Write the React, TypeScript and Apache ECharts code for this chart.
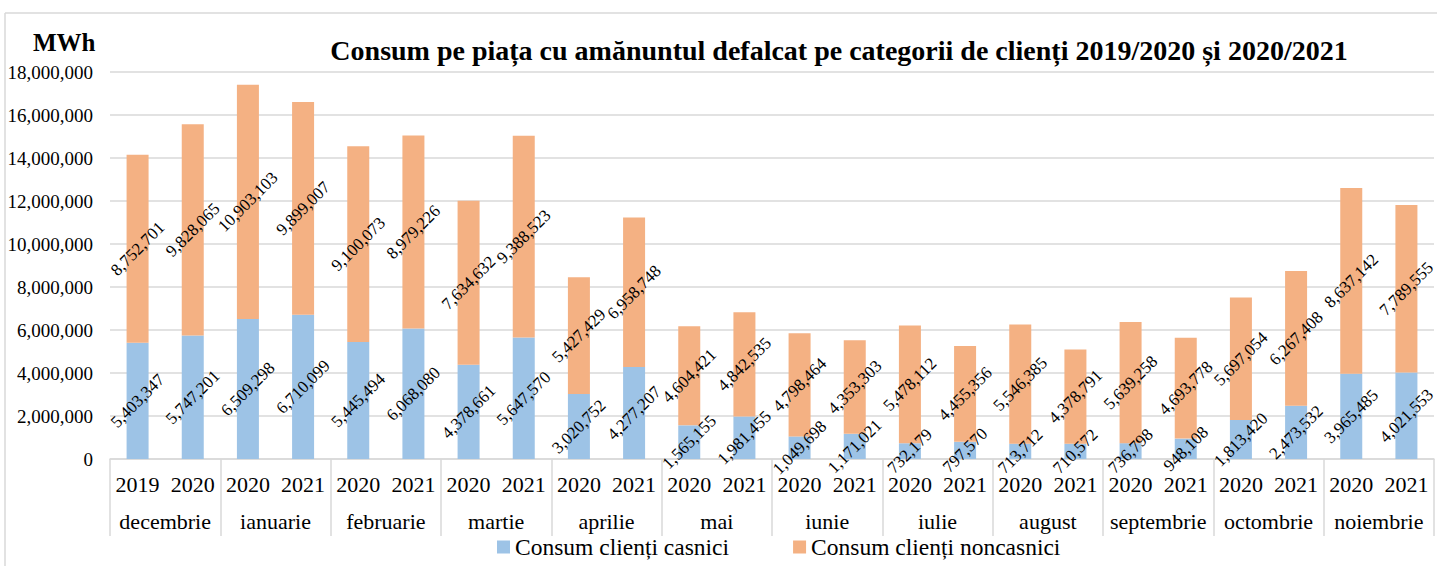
import React, { useEffect, useRef } from "react";
import * as echarts from "echarts";

const years = ["2019", "2020", "2020", "2021", "2020", "2021", "2020", "2021", "2020", "2021", "2020", "2021", "2020", "2021", "2020", "2021", "2020", "2021", "2020", "2021", "2020", "2021", "2020", "2021"];
const months = ["decembrie", "ianuarie", "februarie", "martie", "aprilie", "mai", "iunie", "iulie", "august", "septembrie", "octombrie", "noiembrie"];
const casnici = [5403347, 5747201, 6509298, 6710099, 5445494, 6068080, 4378661, 5647570, 3020752, 4277207, 1565155, 1981455, 1049698, 1171021, 732179, 797570, 713712, 710572, 736798, 948108, 1813420, 2473532, 3965485, 4021553];
const noncasnici = [8752701, 9828065, 10903103, 9899007, 9100073, 8979226, 7634632, 9388523, 5427429, 6958748, 4604421, 4842535, 4798464, 4353303, 5478112, 4455356, 5546385, 4378791, 5639258, 4693778, 5697054, 6267408, 8637142, 7789555];
const seriesNames = ["Consum clienți casnici", "Consum clienți noncasnici"];
const titleText = "Consum pe piața cu amănuntul defalcat pe categorii de clienți 2019/2020 și 2020/2021";

const FONT = "Liberation Serif";
const fmt = (v: number) => v.toLocaleString("en-US");

export default function App() {
  const ref = useRef<HTMLDivElement>(null);
  useEffect(() => {
    if (!ref.current) return;
    const chart = echarts.init(ref.current, null, { renderer: "svg" });
    const labelCfg = {
      show: true,
      position: "inside",
      rotate: 45,
      color: "#000",
      fontFamily: FONT,
      fontSize: 17,
      formatter: (p: any) => fmt(p.value),
    };
    chart.setOption({
      animation: false,
      textStyle: { fontFamily: FONT },
      grid: { left: 110, right: 3, top: 72, bottom: 107, containLabel: false },
      graphic: [
        { type: "line", shape: { x1: 5, y1: 13, x2: 1437, y2: 13 }, style: { stroke: "#d9d9d9", lineWidth: 1.5 } },
        { type: "line", shape: { x1: 5, y1: 13, x2: 5, y2: 566 }, style: { stroke: "#d9d9d9", lineWidth: 1.5 } },
        { type: "text", left: 33, top: 30, style: { text: "MWh", font: `bold 25px ${FONT}`, fill: "#000" } },
        { type: "text", x: 839, y: 50, style: { text: titleText, font: `bold 28px ${FONT}`, fill: "#000", textAlign: "center", textVerticalAlign: "middle" } },
      ],
      legend: {
        left: 497,
        top: 535,
        padding: 0,
        icon: "rect",
        itemWidth: 13,
        itemHeight: 13,
        itemGap: 64,
        textStyle: { fontFamily: FONT, fontSize: 23.5, color: "#000" },
        data: seriesNames,
      },
      xAxis: [
        {
          type: "category",
          data: years,
          position: "bottom",
          axisLine: { show: true, lineStyle: { color: "#d9d9d9", width: 1.5 } },
          axisTick: { show: false },
          axisLabel: { interval: 0, margin: 14, color: "#000", fontFamily: FONT, fontSize: 22 },
        },
        {
          type: "category",
          data: months,
          position: "bottom",
          axisLine: { show: false },
          axisTick: { show: true, length: 77, lineStyle: { color: "#d9d9d9", width: 1.5 } },
          axisLabel: { interval: 0, margin: 51, color: "#000", fontFamily: FONT, fontSize: 22 },
        },
      ],
      yAxis: {
        type: "value",
        min: 0,
        max: 18000000,
        interval: 2000000,
        axisLine: { show: false },
        axisTick: { show: false },
        splitLine: { lineStyle: { color: "#d9d9d9", width: 1.5 } },
        axisLabel: { margin: 17, color: "#000", fontFamily: FONT, fontSize: 19, formatter: (v: number) => fmt(v) },
      },
      series: [
        {
          name: seriesNames[0],
          type: "bar",
          stack: "total",
          xAxisIndex: 0,
          barWidth: 22,
          itemStyle: { color: "#9DC3E6" },
          label: labelCfg,
          data: casnici,
        },
        {
          name: seriesNames[1],
          type: "bar",
          stack: "total",
          xAxisIndex: 0,
          barWidth: 22,
          itemStyle: { color: "#F4B183" },
          label: labelCfg,
          data: noncasnici,
        },
      ],
    });
    return () => chart.dispose();
  }, []);
  return <div ref={ref} style={{ position: "fixed", left: 0, top: 0, width: 1437, height: 566, background: "#fff" }} />;
}
